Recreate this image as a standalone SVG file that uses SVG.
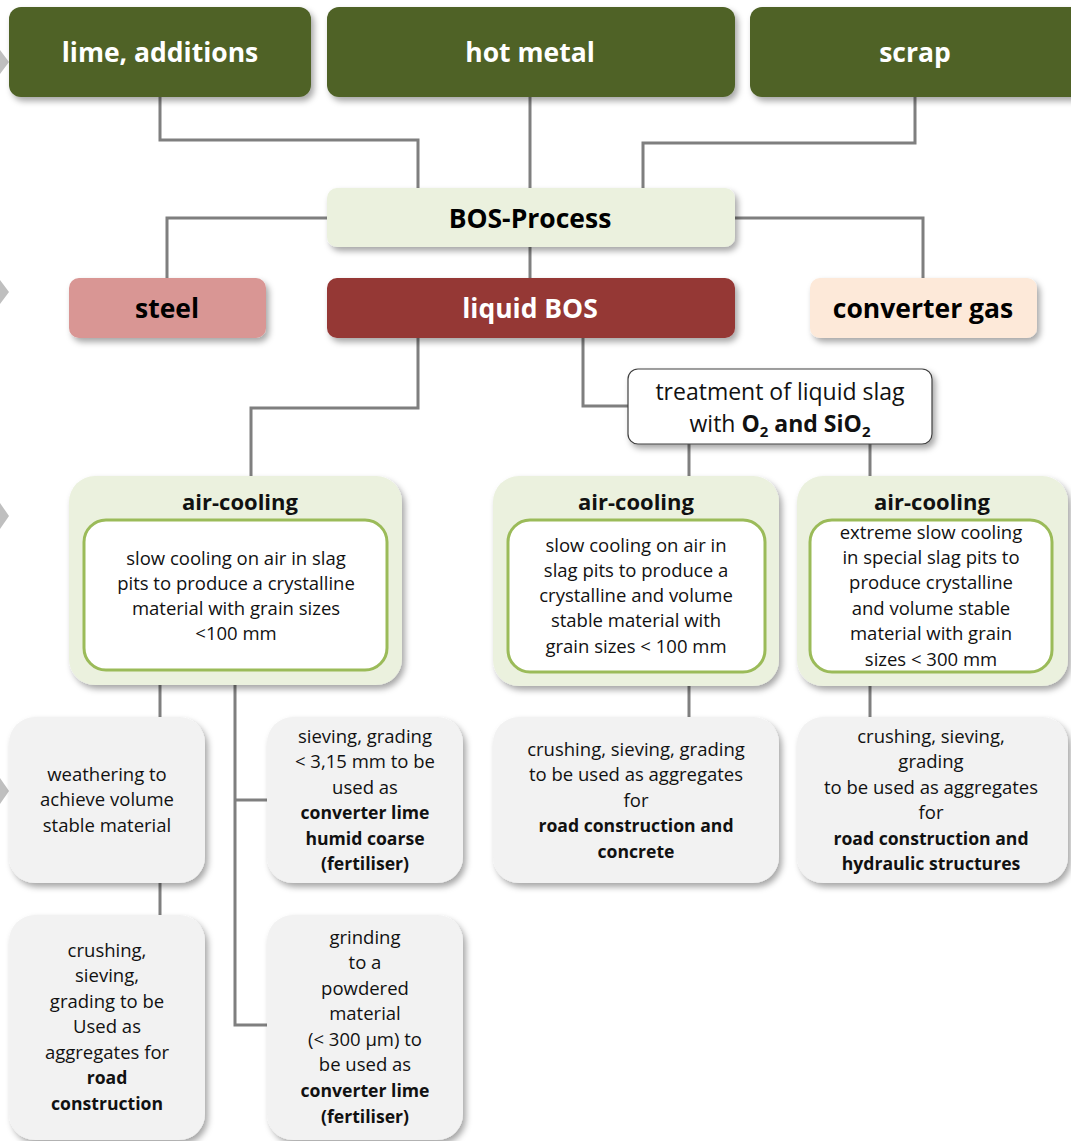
<svg xmlns="http://www.w3.org/2000/svg" width="1071" height="1141" viewBox="0 0 1071 1141">
<defs>
<filter id="sh" x="-10%" y="-10%" width="125%" height="130%">
<feDropShadow dx="3" dy="4" stdDeviation="3" flood-color="#000" flood-opacity="0.35"/>
</filter>
<style>
.t{font-family:"Open Sans","Liberation Sans",sans-serif;text-anchor:middle}
.h{font-weight:bold;font-size:26.5px}
.w{fill:#fff}
.k{fill:#000}
.b{font-size:18.5px;fill:#111}
.bb{font-weight:bold;font-size:17.6px}
.ac{font-weight:bold;font-size:22px;fill:#111}
.con{fill:none;stroke:#7f7f7f;stroke-width:3}
.green{fill:#4f6228}
.pale{fill:#ebf1de}
.inner{fill:#fff;stroke:#9bbb59;stroke-width:3}
.grey{fill:#f2f2f2}
.chev{fill:#bfbfbf}
</style>
</defs>
<rect width="1071" height="1141" fill="#fff"/>
<g id="chevrons">
<polygon class="chev" points="0,50 9,62 0,74"/>
<polygon class="chev" points="0,280 9,292 0,304"/>
<polygon class="chev" points="0,503 9,516 0,529"/>
<polygon class="chev" points="0,778 9,791 0,804"/>
</g>
<g id="connectors">
<polyline class="con" points="160,97 160,140 418,140 418,188"/>
<line class="con" x1="530" y1="97" x2="530" y2="188"/>
<polyline class="con" points="915,97 915,143 643,143 643,188"/>
<polyline class="con" points="327,218 167,218 167,278"/>
<polyline class="con" points="735,218 923,218 923,278"/>
<line class="con" x1="530" y1="247" x2="530" y2="278"/>
<polyline class="con" points="418,338 418,408 251,408 251,476"/>
<polyline class="con" points="583,338 583,406 628,406"/>
<line class="con" x1="689" y1="444" x2="689" y2="476"/>
<line class="con" x1="870" y1="444" x2="870" y2="476"/>
<line class="con" x1="160" y1="685" x2="160" y2="717"/>
<polyline class="con" points="235,685 235,1025 267,1025"/>
<line class="con" x1="235" y1="800" x2="267" y2="800"/>
<line class="con" x1="160" y1="883" x2="160" y2="915"/>
<line class="con" x1="689" y1="686" x2="689" y2="717"/>
<line class="con" x1="870" y1="686" x2="870" y2="717"/>
</g>
<g id="lime">
<rect class="green" x="9" y="7" width="302" height="90" rx="12" filter="url(#sh)"/>
<text class="t h w" x="160" y="62">lime, additions</text>
</g>
<g id="hotmetal">
<rect class="green" x="327" y="7" width="408" height="90" rx="12" filter="url(#sh)"/>
<text class="t h w" x="530" y="62">hot metal</text>
</g>
<g id="scrap">
<rect class="green" x="750" y="7" width="340" height="90" rx="12" filter="url(#sh)"/>
<text class="t h w" x="915" y="62">scrap</text>
</g>
<g id="bos">
<rect class="pale" x="327" y="188" width="408" height="59" rx="10" filter="url(#sh)"/>
<text class="t h k" x="530" y="228">BOS-Process</text>
</g>
<g id="steel">
<rect x="69" y="278" width="197" height="60" rx="10" fill="#d99694" filter="url(#sh)"/>
<text class="t h k" x="167" y="318">steel</text>
</g>
<g id="liquidbos">
<rect x="327" y="278" width="408" height="60" rx="10" fill="#953735" filter="url(#sh)"/>
<text class="t h w" x="530" y="318">liquid BOS</text>
</g>
<g id="convgas">
<rect x="810" y="278" width="227" height="60" rx="10" fill="#fde9d9" filter="url(#sh)"/>
<text class="t h k" x="923" y="318">converter gas</text>
</g>
<g id="treatment">
<rect x="628" y="369" width="304" height="75" rx="10" fill="#fff" stroke="#404040" stroke-width="1.2" filter="url(#sh)"/>
<text class="t" x="780" y="400" font-size="23" fill="#111">treatment of liquid slag</text>
<text class="t" x="780" y="432" font-size="23" fill="#111">with <tspan font-weight="bold">O<tspan font-size="15" dy="5">2</tspan><tspan dy="-5"> and SiO</tspan><tspan font-size="15" dy="5">2</tspan></tspan></text>
</g>
<g id="aircool1">
<rect class="pale" x="69" y="476" width="333" height="209" rx="26" filter="url(#sh)"/>
<text class="t ac" x="240" y="510">air-cooling</text>
<rect class="inner" x="84" y="520" width="303" height="150" rx="22"/>
<text class="t b" x="236" y="565">slow cooling on air in slag</text>
<text class="t b" x="236" y="590">pits to produce a crystalline</text>
<text class="t b" x="236" y="615">material with grain sizes</text>
<text class="t b" x="236" y="640">&lt;100 mm</text>
</g>
<g id="aircool2">
<rect class="pale" x="493" y="476" width="286" height="210" rx="26" filter="url(#sh)"/>
<text class="t ac" x="636" y="510">air-cooling</text>
<rect class="inner" x="508" y="520" width="257" height="152" rx="22"/>
<text class="t b" x="636" y="552">slow cooling on air in</text>
<text class="t b" x="636" y="577">slag pits to produce a</text>
<text class="t b" x="636" y="602">crystalline and volume</text>
<text class="t b" x="636" y="627">stable material with</text>
<text class="t b" x="636" y="653">grain sizes &lt; 100 mm</text>
</g>
<g id="aircool3">
<rect class="pale" x="797" y="476" width="271" height="210" rx="26" filter="url(#sh)"/>
<text class="t ac" x="932" y="510">air-cooling</text>
<rect class="inner" x="810" y="520" width="242" height="152" rx="22"/>
<text class="t b" x="931" y="539">extreme slow cooling</text>
<text class="t b" x="931" y="564">in special slag pits to</text>
<text class="t b" x="931" y="589">produce crystalline</text>
<text class="t b" x="931" y="615">and volume stable</text>
<text class="t b" x="931" y="640">material with grain</text>
<text class="t b" x="931" y="666">sizes &lt; 300 mm</text>
</g>
<g id="weathering">
<rect class="grey" x="9" y="717" width="196" height="166" rx="26" filter="url(#sh)"/>
<text class="t b" x="107" y="781">weathering to</text>
<text class="t b" x="107" y="806">achieve volume</text>
<text class="t b" x="107" y="832">stable material</text>
</g>
<g id="sieving">
<rect class="grey" x="267" y="717" width="196" height="166" rx="26" filter="url(#sh)"/>
<text class="t b" x="365" y="743">sieving, grading</text>
<text class="t b" x="365" y="768">&lt; 3,15 mm to be</text>
<text class="t b" x="365" y="794">used as</text>
<text class="t b bb" x="365" y="819">converter lime</text>
<text class="t b bb" x="365" y="845">humid coarse</text>
<text class="t b bb" x="365" y="870">(fertiliser)</text>
</g>
<g id="crushing1">
<rect class="grey" x="9" y="915" width="196" height="225" rx="26" filter="url(#sh)"/>
<text class="t b" x="107" y="957">crushing,</text>
<text class="t b" x="107" y="982">sieving,</text>
<text class="t b" x="107" y="1008">grading to be</text>
<text class="t b" x="107" y="1033">Used as</text>
<text class="t b" x="107" y="1059">aggregates for</text>
<text class="t b bb" x="107" y="1084">road</text>
<text class="t b bb" x="107" y="1110">construction</text>
</g>
<g id="grinding">
<rect class="grey" x="267" y="915" width="196" height="225" rx="26" filter="url(#sh)"/>
<text class="t b" x="365" y="944">grinding</text>
<text class="t b" x="365" y="969">to a</text>
<text class="t b" x="365" y="995">powdered</text>
<text class="t b" x="365" y="1020">material</text>
<text class="t b" x="365" y="1046">(&lt; 300 µm) to</text>
<text class="t b" x="365" y="1071">be used as</text>
<text class="t b bb" x="365" y="1097">converter lime</text>
<text class="t b bb" x="365" y="1123">(fertiliser)</text>
</g>
<g id="crushing2">
<rect class="grey" x="493" y="717" width="286" height="166" rx="26" filter="url(#sh)"/>
<text class="t b" x="636" y="756">crushing, sieving, grading</text>
<text class="t b" x="636" y="781">to be used as aggregates</text>
<text class="t b" x="636" y="807">for</text>
<text class="t b bb" x="636" y="832">road construction and</text>
<text class="t b bb" x="636" y="858">concrete</text>
</g>
<g id="crushing3">
<rect class="grey" x="797" y="717" width="271" height="166" rx="26" filter="url(#sh)"/>
<text class="t b" x="931" y="743">crushing, sieving,</text>
<text class="t b" x="931" y="768">grading</text>
<text class="t b" x="931" y="794">to be used as aggregates</text>
<text class="t b" x="931" y="819">for</text>
<text class="t b bb" x="931" y="845">road construction and</text>
<text class="t b bb" x="931" y="870">hydraulic structures</text>
</g>
</svg>
